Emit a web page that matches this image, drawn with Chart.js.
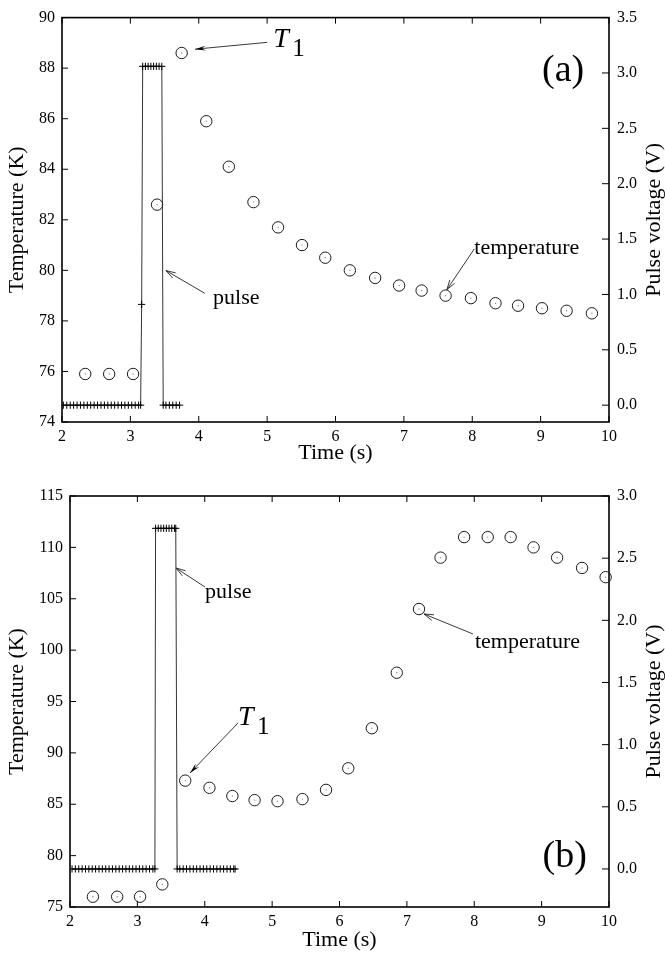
<!DOCTYPE html>
<html><head><meta charset="utf-8">
<script src="https://cdn.jsdelivr.net/npm/chart.js@4.4.0/dist/chart.umd.min.js"></script>
<style>
html,body{margin:0;padding:0;background:#fff;}
#wrap{position:relative;width:665px;height:954px;background:#fff;}
#ca{position:absolute;left:0;top:0;}
#cb{position:absolute;left:0;top:470px;}
</style></head><body>
<div id="wrap"><canvas id="ca" width="665" height="470"></canvas><canvas id="cb" width="665" height="484"></canvas></div>
<script>
// ---------- tick labels ----------
const timeTicks  = [2, 3, 4, 5, 6, 7, 8, 9, 10];
const tempTicksA = [74, 76, 78, 80, 82, 84, 86, 88, 90];
const voltTicksA = [0, 0.5, 1, 1.5, 2, 2.5, 3, 3.5];
const tempTicksB = [75, 80, 85, 90, 95, 100, 105, 110, 115];
const voltTicksB = [0, 0.5, 1, 1.5, 2, 2.5, 3];

// ---------- panel (a) ----------
const timeA = [2.34, 2.69, 3.04, 3.39, 3.75, 4.11, 4.44, 4.80, 5.16, 5.51, 5.85, 6.21, 6.58, 6.93, 7.26, 7.61, 7.98, 8.34, 8.67, 9.02, 9.38, 9.75];
const tempA = [75.9, 75.9, 75.9, 82.6, 88.6, 85.9, 84.1, 82.7, 81.7, 81.0, 80.5, 80.0, 79.7, 79.4, 79.2, 79.0, 78.9, 78.7, 78.6, 78.5, 78.4, 78.3];
const pulseTimeA = [2.02, 2.07, 2.12, 2.17, 2.22, 2.27, 2.32, 2.37, 2.42, 2.47, 2.52, 2.57, 2.62, 2.67, 2.72, 2.77, 2.82, 2.87, 2.92, 2.97, 3.02, 3.07, 3.12, 3.15,
  3.165,
  3.18, 3.22, 3.26, 3.30, 3.34, 3.38, 3.42, 3.46,
  3.48, 3.52, 3.57, 3.62, 3.67, 3.72];
const pulseVoltA = [0, 0, 0, 0, 0, 0, 0, 0, 0, 0, 0, 0, 0, 0, 0, 0, 0, 0, 0, 0, 0, 0, 0, 0,
  0.91,
  3.06, 3.06, 3.06, 3.06, 3.06, 3.06, 3.06, 3.06,
  0, 0, 0, 0, 0, 0];

// ---------- panel (b) ----------
const timeB = [2.34, 2.70, 3.04, 3.37, 3.71, 4.07, 4.41, 4.74, 5.08, 5.45, 5.80, 6.13, 6.48, 6.85, 7.18, 7.50, 7.85, 8.20, 8.54, 8.88, 9.23, 9.60, 9.95];
const tempB = [76.0, 76.0, 76.0, 77.2, 87.3, 86.6, 85.8, 85.4, 85.3, 85.5, 86.4, 88.5, 92.4, 97.8, 104.0, 109.0, 111.0, 111.0, 111.0, 110.0, 109.0, 108.0, 107.1];
const pulseTimeB = [2.03, 2.08, 2.13, 2.18, 2.23, 2.28, 2.33, 2.38, 2.43, 2.48, 2.53, 2.58, 2.63, 2.68, 2.73, 2.78, 2.83, 2.88, 2.93, 2.98, 3.03, 3.08, 3.13, 3.18, 3.23, 3.26,
  3.27, 3.31, 3.35, 3.39, 3.43, 3.47, 3.51, 3.55, 3.57,
  3.59, 3.63, 3.68, 3.73, 3.78, 3.83, 3.88, 3.93, 3.98, 4.03, 4.08, 4.13, 4.18, 4.23, 4.28, 4.33, 4.38, 4.43, 4.45];
const pulseVoltB = [0, 0, 0, 0, 0, 0, 0, 0, 0, 0, 0, 0, 0, 0, 0, 0, 0, 0, 0, 0, 0, 0, 0, 0, 0, 0,
  2.74, 2.74, 2.74, 2.74, 2.74, 2.74, 2.74, 2.74, 2.74,
  0, 0, 0, 0, 0, 0, 0, 0, 0, 0, 0, 0, 0, 0, 0, 0, 0, 0, 0];

const SERIF = '"Liberation Serif", "Times New Roman", serif';

function drawArrow(ctx, x1, y1, x2, y2, filled) {
  const ang = Math.atan2(y2 - y1, x2 - x1);
  const len = filled ? 11 : 10, spread = filled ? 0.22 : 0.3;
  ctx.beginPath(); ctx.moveTo(x1, y1); ctx.lineTo(x2, y2); ctx.stroke();
  const ax = x2 - len * Math.cos(ang - spread), ay = y2 - len * Math.sin(ang - spread);
  const bx = x2 - len * Math.cos(ang + spread), by = y2 - len * Math.sin(ang + spread);
  ctx.beginPath();
  if (filled) {
    ctx.moveTo(x2, y2); ctx.lineTo(ax, ay); ctx.lineTo(x2 - 0.6*len*Math.cos(ang), y2 - 0.6*len*Math.sin(ang)); ctx.lineTo(bx, by); ctx.closePath(); ctx.fill();
  } else {
    ctx.moveTo(ax, ay); ctx.lineTo(x2, y2); ctx.lineTo(bx, by); ctx.stroke();
  }
}

const framePlugin = {
  id: 'frame',
  beforeDatasetsDraw(chart) {
    const {ctx, chartArea: a, scales} = chart;
    const o = chart.options.plugins.frame;
    ctx.save();
    ctx.strokeStyle = '#000';
    ctx.lineWidth = 1;
    o.xTicks.forEach(v => {
      const px = scales.x.getPixelForValue(v);
      ctx.beginPath(); ctx.moveTo(px, a.bottom); ctx.lineTo(px, a.bottom - 6); ctx.stroke();
      ctx.beginPath(); ctx.moveTo(px, a.top); ctx.lineTo(px, a.top + 6); ctx.stroke();
    });
    o.yTicks.forEach(v => {
      const py = scales.y.getPixelForValue(v);
      ctx.beginPath(); ctx.moveTo(a.left, py); ctx.lineTo(a.left + 6, py); ctx.stroke();
    });
    o.y1Ticks.forEach(v => {
      const py = scales.y1.getPixelForValue(v);
      ctx.beginPath(); ctx.moveTo(a.right - 7, py); ctx.lineTo(a.right, py); ctx.stroke();
    });
    ctx.lineWidth = 1.6;
    ctx.strokeRect(a.left, a.top, a.right - a.left, a.bottom - a.top);
    ctx.restore();
  },
  afterDraw(chart) {
    const {ctx, chartArea: a, scales} = chart;
    const o = chart.options.plugins.frame;
    ctx.save();
    // right axis title (reads bottom to top)
    ctx.fillStyle = '#000';
    ctx.font = '22px ' + SERIF;
    ctx.textAlign = 'center'; ctx.textBaseline = 'middle';
    ctx.translate(654, (a.top + a.bottom) / 2);
    ctx.rotate(-Math.PI / 2);
    ctx.fillText(o.rightTitle, 0, 0);
    ctx.restore();
    // annotations
    ctx.save();
    ctx.fillStyle = '#000'; ctx.strokeStyle = '#222'; ctx.lineWidth = 0.9;
    ctx.textAlign = 'left'; ctx.textBaseline = 'alphabetic';
    const X = v => scales.x.getPixelForValue(v), Y = v => scales.y.getPixelForValue(v);
    o.notes.forEach(n => {
      if (n.kind === 'text') {
        ctx.font = '22px ' + SERIF; ctx.fillText(n.text, X(n.x), Y(n.y));
      } else if (n.kind === 'label') {
        ctx.font = '38px ' + SERIF; ctx.fillText(n.text, X(n.x), Y(n.y));
      } else if (n.kind === 'sub') {
        ctx.font = 'italic 28px ' + SERIF; ctx.fillText(n.main, X(n.x), Y(n.y));
        ctx.font = '25px ' + SERIF; ctx.fillText(n.sub, X(n.x) + 19, Y(n.y) + 9);
      } else if (n.kind === 'arrow') {
        drawArrow(ctx, X(n.x1), Y(n.y1), X(n.x2), Y(n.y2), n.filled);
      }
    });
    ctx.restore();
  }
};

function makeChart(id, cfg) {
  const fixTicks = arr => (s => { s.ticks = arr.map(v => ({value: v})); });
  return new Chart(document.getElementById(id), {
    type: 'scatter',
    data: {
      datasets: [
        { label: 'temperature', data: cfg.t.map((v, i) => ({x: v, y: cfg.T[i]})), yAxisID: 'y',
          showLine: false, pointStyle: 'circle', pointRadius: 5.7, pointBorderWidth: 1,
          pointBorderColor: '#1a1a1a', pointBackgroundColor: 'rgba(255,255,255,0)', clip: false, order: 1 },
        { label: 'temperature-centre', data: cfg.t.map((v, i) => ({x: v, y: cfg.T[i]})), yAxisID: 'y',
          showLine: false, pointStyle: 'circle', pointRadius: 0.7, pointBorderWidth: 0,
          pointBackgroundColor: '#888', clip: false, order: 1 },
        { label: 'pulse', data: cfg.pt.map((v, i) => ({x: v, y: cfg.pv[i]})), yAxisID: 'y1',
          showLine: true, borderColor: '#333', borderWidth: 1, tension: 0, fill: false,
          pointStyle: 'cross', pointRadius: 3.6, pointBorderWidth: 1, pointBorderColor: '#000',
          pointBackgroundColor: '#000', order: 2 }
      ]
    },
    options: {
      responsive: false, animation: false, events: [],
      devicePixelRatio: 1,
      layout: { padding: { top: cfg.padTop, left: 0, right: 0, bottom: 0 } },
      plugins: {
        legend: { display: false }, tooltip: { enabled: false },
        frame: { xTicks: timeTicks, yTicks: cfg.yTicks, y1Ticks: cfg.y1Ticks, notes: cfg.notes, rightTitle: 'Pulse voltage (V)' }
      },
      scales: {
        x: { type: 'linear', position: 'bottom', min: 2, max: 10,
          afterBuildTicks: fixTicks(timeTicks),
          afterFit: s => { s.height = cfg.xH; },
          grid: { display: false, drawTicks: false }, border: { display: false },
          ticks: { padding: 5, color: '#000', font: { family: SERIF, size: 16 }, maxRotation: 0, autoSkip: false },
          title: { display: true, text: 'Time (s)', color: '#000', font: { family: SERIF, size: 22 }, padding: { top: 0, bottom: cfg.xTitlePad } } },
        y: { type: 'linear', position: 'left', min: cfg.yMin, max: cfg.yMax,
          afterBuildTicks: fixTicks(cfg.yTicks),
          afterFit: s => { s.width = cfg.leftW; },
          grid: { display: false, drawTicks: false }, border: { display: false },
          ticks: { padding: 7, color: '#000', font: { family: SERIF, size: 16 }, autoSkip: false },
          title: { display: true, text: 'Temperature (K)', color: '#000', font: { family: SERIF, size: 22 }, padding: { top: 4, bottom: 0 } } },
        y1: { type: 'linear', position: 'right', min: cfg.y1Min, max: cfg.y1Max,
          afterBuildTicks: fixTicks(cfg.y1Ticks),
          afterFit: s => { s.width = 56; },
          grid: { display: false, drawTicks: false }, border: { display: false },
          ticks: { padding: 8, color: '#000', font: { family: SERIF, size: 16 }, autoSkip: false,
            callback: v => Number(v).toFixed(1) } }
      }
    },
    plugins: [framePlugin]
  });
}

makeChart('ca', {
  t: timeA, T: tempA, pt: pulseTimeA, pv: pulseVoltA,
  yMin: 74, yMax: 90, y1Min: -0.152, y1Max: 3.5, yTicks: tempTicksA, y1Ticks: voltTicksA,
  padTop: 13, leftW: 62, xH: 48, xTitlePad: 4,
  notes: [
    {kind: 'sub', x: 5.09, y: 88.83, main: 'T', sub: '1'},
    {kind: 'arrow', x1: 5.00, y1: 89.02, x2: 3.945, y2: 88.75, filled: true},
    {kind: 'text', x: 4.21, y: 78.66, text: 'pulse'},
    {kind: 'arrow', x1: 4.09, y1: 79.09, x2: 3.52, y2: 79.99, filled: false},
    {kind: 'text', x: 8.03, y: 80.65, text: 'temperature'},
    {kind: 'arrow', x1: 8.03, y1: 80.85, x2: 7.63, y2: 79.24, filled: false},
    {kind: 'label', x: 9.02, y: 87.5, text: '(a)'}
  ]
});

makeChart('cb', {
  t: timeB, T: tempB, pt: pulseTimeB, pv: pulseVoltB,
  yMin: 75, yMax: 115, y1Min: -0.306, y1Max: 3.0, yTicks: tempTicksB, y1Ticks: voltTicksB,
  padTop: 26, leftW: 70, xH: 47, xTitlePad: 1,
  notes: [
    {kind: 'sub', x: 4.494, y: 92.71, main: 'T', sub: '1'},
    {kind: 'arrow', x1: 4.494, y1: 92.91, x2: 3.781, y2: 88.04, filled: true},
    {kind: 'text', x: 4.004, y: 105.07, text: 'pulse'},
    {kind: 'arrow', x1: 4.004, y1: 106.14, x2: 3.573, y2: 107.99, filled: false},
    {kind: 'text', x: 8.011, y: 100.21, text: 'temperature'},
    {kind: 'arrow', x1: 7.981, y1: 101.57, x2: 7.254, y2: 103.52, filled: false},
    {kind: 'label', x: 9.014, y: 78.89, text: '(b)'}
  ]
});
</script>
</body></html>
